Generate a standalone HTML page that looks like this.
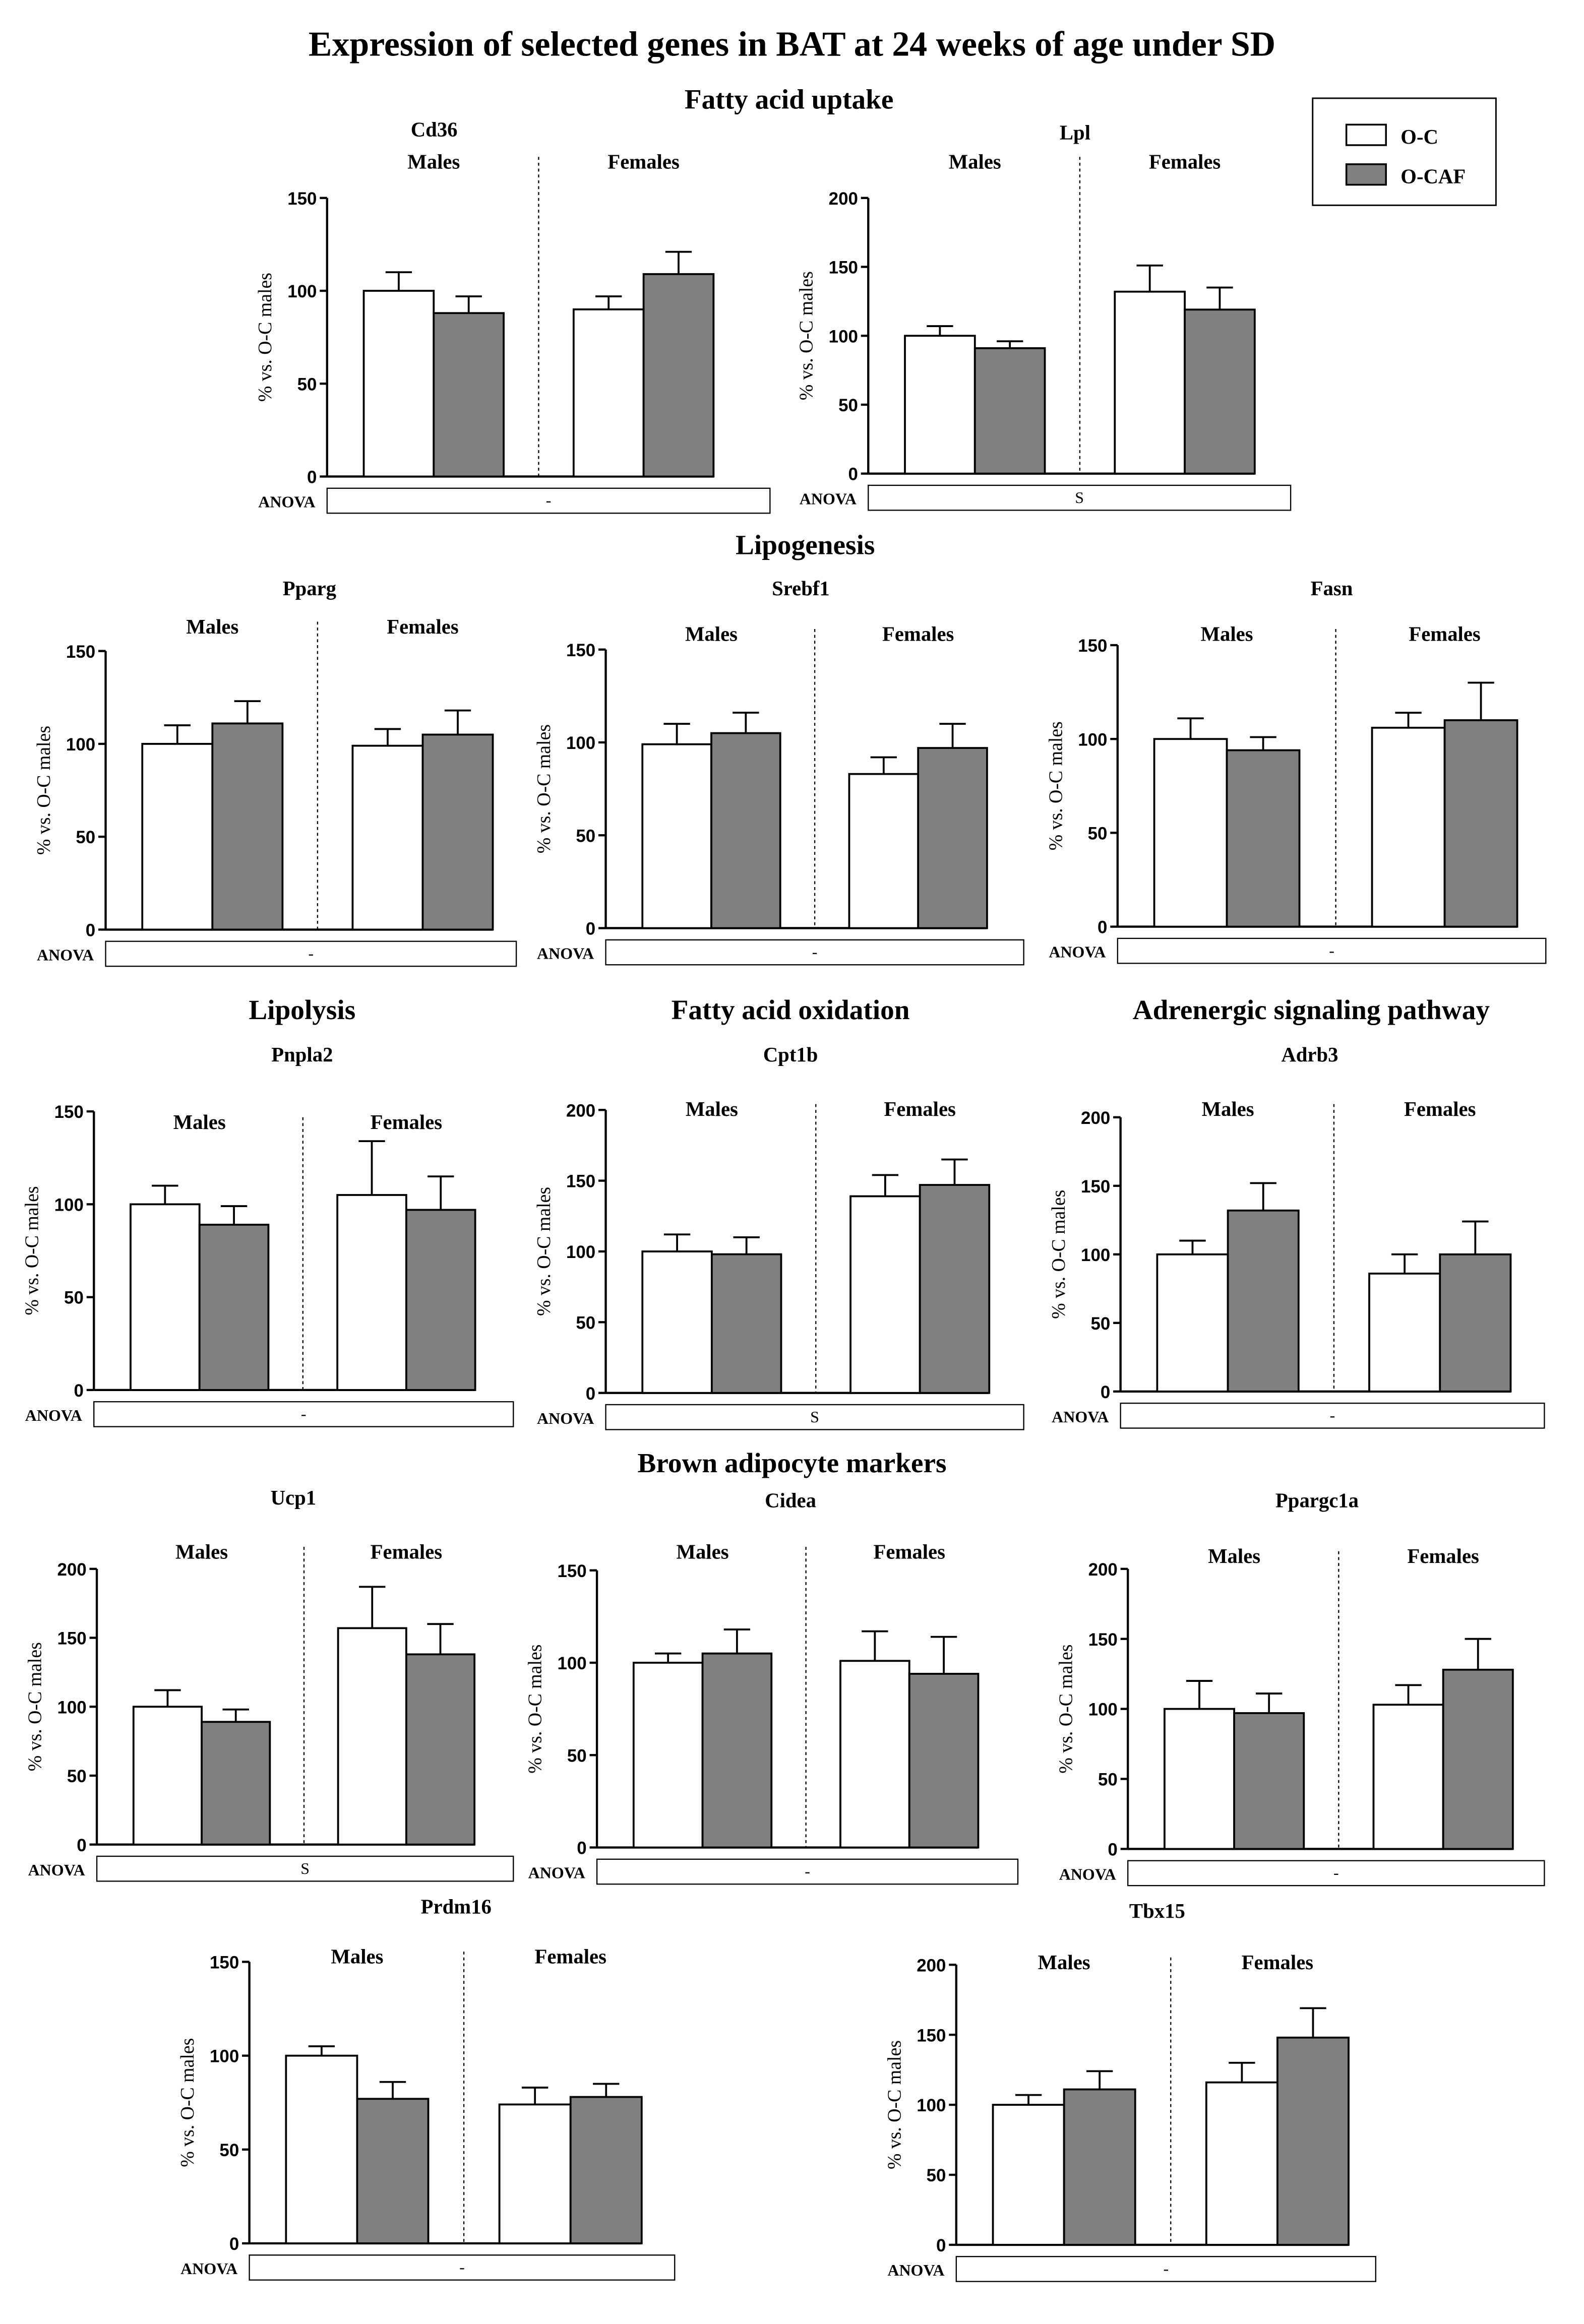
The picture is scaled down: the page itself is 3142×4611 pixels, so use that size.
<!DOCTYPE html>
<html><head><meta charset="utf-8">
<style>
html,body{margin:0;padding:0;background:#fff;}
svg{display:block;}
text{font-family:"Liberation Serif",serif;fill:#000;}
.tick{font-family:"Liberation Sans",sans-serif;font-weight:bold;font-size:12px;}
.bold{font-weight:bold;}
</style></head>
<body>
<svg id="chart" xmlns="http://www.w3.org/2000/svg" width="3142" height="4611" viewBox="0 0 1080 1585">
<rect x="0" y="0" width="1080" height="1585" fill="#fff"/>
<text x="540" y="38" text-anchor="middle" class="bold" font-size="24">Expression  of selected genes in BAT at 24 weeks of age under SD</text>
<text x="538" y="74" text-anchor="middle" class="bold" font-size="19">Fatty acid uptake</text>
<text x="549" y="378" text-anchor="middle" class="bold" font-size="19">Lipogenesis</text>
<text x="206" y="695" text-anchor="middle" class="bold" font-size="19">Lipolysis</text>
<text x="539" y="695" text-anchor="middle" class="bold" font-size="19">Fatty acid oxidation</text>
<text x="894" y="695" text-anchor="middle" class="bold" font-size="19">Adrenergic signaling pathway</text>
<text x="540" y="1004" text-anchor="middle" class="bold" font-size="19">Brown adipocyte markers</text>
<g>
<rect x="895" y="67" width="125" height="73" fill="#fff" stroke="#000" stroke-width="1"/>
<rect x="918" y="85" width="27" height="14" fill="#fff" stroke="#000" stroke-width="1.2"/>
<text x="955" y="98" class="bold" font-size="14">O-C</text>
<rect x="918" y="112" width="27" height="14" fill="#808080" stroke="#000" stroke-width="1.2"/>
<text x="955" y="125" class="bold" font-size="14">O-CAF</text>
</g>
</svg>
<script>
const genes = ["Cd36","Lpl","Pparg","Srebf1","Fasn","Pnpla2","Cpt1b","Adrb3","Ucp1","Cidea","Ppargc1a","Prdm16","Tbx15"];
const yMax = [150,200,150,150,150,150,200,200,200,150,200,150,200];
const ocMales = [100,100,100,99,100,100,100,100,100,100,100,100,100];
const ocafMales = [88,91,111,105,94,89,98,132,89,105,97,77,111];
const ocFemales = [90,132,99,83,106,105,139,86,157,101,103,74,116];
const ocafFemales = [109,119,105,97,110,97,147,100,138,94,128,78,148];
const ocMalesErr = [10,7,10,11,11,10,12,10,12,5,20,5,7];
const ocafMalesErr = [9,5,12,11,7,10,12,20,9,13,14,9,13];
const ocFemalesErr = [7,19,9,9,8,29,15,14,30,16,14,9,14];
const ocafFemalesErr = [12,16,13,13,20,18,18,24,22,20,22,7,21];
const anova = ["-","S","-","-","-","-","S","-","S","-","-","-","-"];

// layout only (pixel positions in 1080-wide design space)
const layout = [
 {ax:223,y0:325,yt:135,bw:47.7,box:525,ly:115,tx:296,ty:93},
 {ax:592,y0:323,yt:135,bw:47.7,box:880,ly:115,tx:733,ty:95},
 {ax:72,y0:634,yt:444,bw:47.8,box:352,ly:432,tx:211,ty:406},
 {ax:413,y0:633,yt:443,bw:47,box:698,ly:437,tx:546,ty:406},
 {ax:762,y0:632,yt:440,bw:49.5,box:1054,ly:437,tx:908,ty:406},
 {ax:64,y0:948,yt:758,bw:47,box:350,ly:770,tx:206,ty:724},
 {ax:413,y0:950,yt:757,bw:47.3,box:698,ly:761,tx:539,ty:724},
 {ax:764,y0:949,yt:762,bw:48.2,box:1053,ly:761,tx:893,ty:724},
 {ax:66,y0:1258,yt:1070,bw:46.5,box:350,ly:1063,tx:200,ty:1026},
 {ax:407,y0:1260,yt:1071,bw:47,box:694,ly:1063,tx:539,ty:1028},
 {ax:769,y0:1261,yt:1070,bw:47.5,box:1053,ly:1066,tx:898,ty:1028},
 {ax:170,y0:1530,yt:1338,bw:48.5,box:460,ly:1339,tx:311,ty:1305},
 {ax:652,y0:1531,yt:1340,bw:48.5,box:938,ly:1343,tx:789,ty:1308}
];
const NS = "http://www.w3.org/2000/svg";
const svg = document.getElementById("chart");
function mk(tag, attrs, parent){
  const e = document.createElementNS(NS, tag);
  for (const k in attrs) e.setAttribute(k, attrs[k]);
  parent.appendChild(e);
  return e;
}
genes.forEach((g, i) => {
  const L = layout[i];
  const grp = mk("g", {}, svg);
  
  
  const yScale = v => L.y0 - (v / yMax[i]) * (L.y0 - L.yt);
  const xSlot = s => L.ax + 25 + s * L.bw;
  const xEnd = xSlot(5);
  // title
  const t = mk("text", {x:L.tx, y:L.ty, "text-anchor":"middle", "font-size":14, "class":"bold"}, grp);
  t.textContent = g;
  
  
  // y axis
  const ya = mk("line", {x1:L.ax, y1:L.yt, x2:L.ax, y2:L.y0, stroke:"#000", "stroke-width":1.5}, grp);
  
  
  const xa = mk("line", {x1:L.ax, y1:L.y0, x2:xEnd, y2:L.y0, stroke:"#000", "stroke-width":1.5}, grp);
  
  
  for (let v = 0; v <= yMax[i]; v += 50) {
    const y = yScale(v);
    const tk = mk("line", {x1:L.ax-5, y1:y, x2:L.ax, y2:y, stroke:"#000", "stroke-width":1.5}, grp);
    
    
    const tl = mk("text", {x:L.ax-7, y:y+4.5, "text-anchor":"end", "class":"tick"}, grp);
    tl.textContent = v;
    
    
  }
  // y label
  const cy = (L.yt + L.y0) / 2;
  const yl = mk("text", {x:L.ax-38, y:cy, "text-anchor":"middle", "font-size":13, transform:"rotate(-90 " + (L.ax-38) + " " + cy + ")"}, grp);
  yl.textContent = "% vs. O-C males";
  
  
  // divider
  const dv = mk("line", {x1:xSlot(2.5), y1:L.ly-8, x2:xSlot(2.5), y2:L.y0, stroke:"#000", "stroke-width":0.8, "stroke-dasharray":"2,2"}, grp);
  
  
  const ml = mk("text", {x:xSlot(1), y:L.ly, "text-anchor":"middle", "font-size":14, "class":"bold"}, grp);
  ml.textContent = "Males";
  
  
  const fl = mk("text", {x:xSlot(4), y:L.ly, "text-anchor":"middle", "font-size":14, "class":"bold"}, grp);
  fl.textContent = "Females";
  
  
  // bars
  const bars = [
    {slot:0, v:ocMales[i], e:ocMalesErr[i], fill:"#fff", n:"bar-oc-males"},
    {slot:1, v:ocafMales[i], e:ocafMalesErr[i], fill:"#808080", n:"bar-ocaf-males"},
    {slot:3, v:ocFemales[i], e:ocFemalesErr[i], fill:"#fff", n:"bar-oc-females"},
    {slot:4, v:ocafFemales[i], e:ocafFemalesErr[i], fill:"#808080", n:"bar-ocaf-females"}
  ];
  bars.forEach(b => {
    const x = xSlot(b.slot), y = yScale(b.v), cx = x + L.bw/2, ye = yScale(b.v + b.e);
    const eb = mk("path", {d:"M"+cx+" "+y+"V"+ye+"M"+(cx-9)+" "+ye+"H"+(cx+9), stroke:"#000", "stroke-width":1.3, fill:"none"}, grp);
    
    
    const r = mk("rect", {x:x, y:y, width:L.bw, height:L.y0 - y, fill:b.fill, stroke:"#000", "stroke-width":1.3}, grp);
    
    
  });
  // anova
  const al = mk("text", {x:L.ax-8, y:L.y0+21, "text-anchor":"end", "font-size":11, "class":"bold"}, grp);
  al.textContent = "ANOVA";
  
  
  const ab = mk("rect", {x:L.ax, y:L.y0+8, width:L.box - L.ax, height:17, fill:"#fff", stroke:"#000", "stroke-width":0.8}, grp);
  
  
  const av = mk("text", {x:(L.ax+L.box)/2, y:L.y0+20, "text-anchor":"middle", "font-size":11}, grp);
  av.textContent = anova[i];
  
  
});
</script>
</body></html>
